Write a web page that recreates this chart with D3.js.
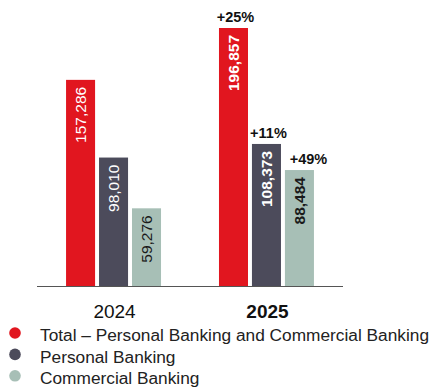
<!DOCTYPE html>
<html>
<head>
<meta charset="utf-8">
<script src="https://cdn.jsdelivr.net/npm/d3@7"></script>
<style>
  html, body { margin: 0; padding: 0; background: #fff; }
  svg { display: block; font-family: "Liberation Sans", Arial, sans-serif; }
</style>
</head>
<body>
<svg id="chart" width="432" height="388"></svg>
<script>
// Chart data
const years = ["2024", "2025"];
const seriesNames = ["Total – Personal Banking and Commercial Banking", "Personal Banking", "Commercial Banking"];
const total = [157286, 196857];
const personal = [98010, 108373];
const commercial = [59276, 88484];
const growthLabels = ["+25%", "+11%", "+49%"]; // 2025 vs 2024

const colors = ["#e1161f", "#4c4b5b", "#a7bfb6"];
const valueColors = ["#ffffff", "#ffffff", "#1a1a1a"];

const svg = d3.select("#chart");
const baseY = 286;
const axisLeft = 37, axisRight = 343;

const x0 = d3.scaleBand().domain(years).range([axisLeft, axisRight]).paddingInner(0.379).paddingOuter(0.19);
const x1 = d3.scaleBand().domain(d3.range(3)).range([0, x0.bandwidth()]).paddingInner(0.12);
const y = d3.scaleLinear().domain([0, 196857]).range([baseY, 28]);

const rows = years.map((yr, i) => ({
  year: yr, bold: i === 1,
  values: [total[i], personal[i], commercial[i]]
}));

const groups = svg.selectAll("g.year").data(rows).join("g")
  .attr("class", "year")
  .attr("transform", d => `translate(${x0(d.year)},0)`);

groups.selectAll("rect").data(d => d.values.map((v, k) => ({ v, k, bold: d.bold })))
  .join("rect")
  .attr("x", d => x1(d.k))
  .attr("y", d => y(d.v))
  .attr("width", x1.bandwidth())
  .attr("height", d => baseY - y(d.v))
  .attr("fill", d => colors[d.k]);

// Value labels, rotated inside the bars
groups.selectAll("text.val").data(d => d.values.map((v, k) => ({ v, k, bold: d.bold })))
  .join("text")
  .attr("class", "val")
  .attr("transform", d => `translate(${x1(d.k) + x1.bandwidth() / 2 + 5.5},${y(d.v) + 7}) rotate(-90)`)
  .attr("text-anchor", "end")
  .attr("font-size", 15.5)
  .attr("font-weight", d => d.bold ? "bold" : "normal")
  .attr("fill", d => valueColors[d.k])
  .text(d => d3.format(",")(d.v));

// Growth labels above the 2025 bars
const lastRow = rows[1];
svg.append("g").selectAll("text").data(lastRow.values.map((v, k) => ({ v, k })))
  .join("text")
  .attr("x", d => x0(lastRow.year) + x1(d.k) + x1.bandwidth() / 2 + (d.k === 2 ? 9 : 2))
  .attr("y", d => y(d.v) - 6)
  .attr("text-anchor", "middle")
  .attr("font-size", 14.5)
  .attr("font-weight", "bold")
  .attr("fill", "#111")
  .text((d, k) => growthLabels[k]);

// Baseline
svg.append("line")
  .attr("x1", axisLeft).attr("x2", axisRight)
  .attr("y1", baseY + 0.5).attr("y2", baseY + 0.5)
  .attr("stroke", "#555").attr("stroke-width", 1);

// Year labels
svg.append("g").selectAll("text").data(rows).join("text")
  .attr("x", d => x0(d.year) + x0.bandwidth() / 2 + 1)
  .attr("y", 318)
  .attr("text-anchor", "middle")
  .attr("font-size", 19)
  .attr("font-weight", d => d.bold ? "bold" : "normal")
  .attr("fill", "#111")
  .text(d => d.year);

// Legend
const legend = svg.append("g").selectAll("g").data(seriesNames).join("g")
  .attr("transform", (d, i) => `translate(0,${333 + i * 21.4})`);
legend.append("circle").attr("cx", 15).attr("cy", 0).attr("r", 5.8)
  .attr("fill", (d, i) => colors[i]);
legend.append("text").attr("x", 40).attr("y", 8.4)
  .attr("font-size", 17.3).attr("fill", "#222")
  .text(d => d);
</script>
</body>
</html>
